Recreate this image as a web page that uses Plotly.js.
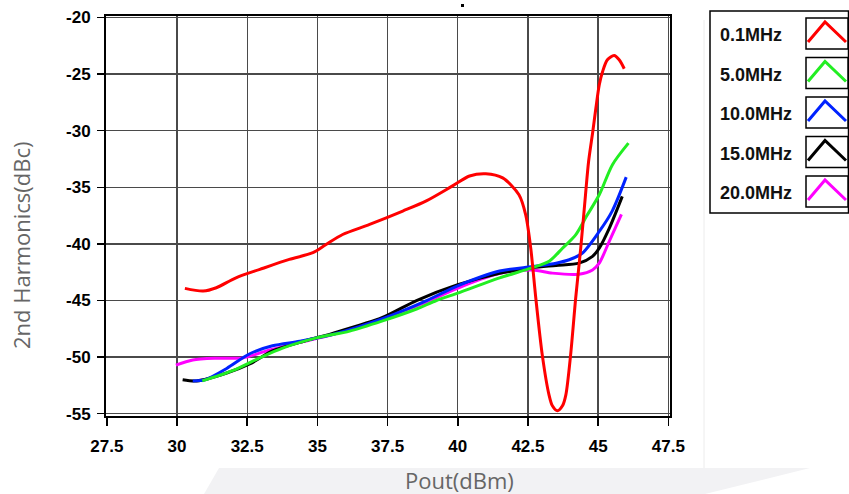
<!DOCTYPE html>
<html>
<head>
<meta charset="utf-8">
<script src="https://cdn.plot.ly/plotly-3.0.1.min.js"></script>
<style>html,body{margin:0;padding:0;background:#fff}#chart{width:849px;height:494px}</style>
</head>
<body>
<div id="chart"></div>
<script>
// ---- data ----
const seriesNames = ["0.1MHz", "5.0MHz", "10.0MHz", "15.0MHz", "20.0MHz"];
const seriesColors = ["#ff0000", "#22ee22", "#0022ff", "#000000", "#ff00ff"];

const x01 = [30.28, 30.93, 31.4, 32.1, 32.95, 34.0, 34.84, 35.31, 35.9, 36.86, 38.04, 38.88, 39.8, 40.42, 41.0, 41.6, 42.18, 42.42, 42.6, 42.78, 43.01, 43.25, 43.37, 43.55, 43.73, 43.85, 44.02, 44.2, 44.38, 44.55, 44.66, 44.81, 44.92, 45.04, 45.16, 45.33, 45.57, 45.75, 45.93];
const y01 = [-43.93, -44.16, -43.87, -42.99, -42.25, -41.37, -40.78, -40.05, -39.17, -38.28, -37.1, -36.2, -34.9, -34.0, -33.8, -34.17, -35.66, -37.43, -40.38, -44.8, -49.8, -53.33, -54.3, -54.74, -54.3, -53.33, -49.8, -44.8, -40.38, -35.66, -32.72, -30.07, -28.0, -25.95, -24.77, -23.74, -23.36, -23.74, -24.53];

const x5 = [30.9, 31.98, 32.94, 33.76, 34.97, 36.15, 37.32, 38.53, 39.24, 40.06, 41.49, 42.66, 43.27, 43.73, 44.2, 44.6, 45.04, 45.51, 46.08];
const y5 = [-52.1, -51.2, -50.07, -49.2, -48.3, -47.7, -46.8, -45.75, -45.0, -44.3, -43.0, -42.1, -41.5, -40.38, -39.2, -37.5, -35.66, -33.0, -31.1];

const x10 = [30.56, 31.0, 31.77, 32.59, 33.4, 34.37, 35.54, 37.32, 38.89, 40.0, 41.49, 42.66, 43.5, 43.97, 44.44, 45.04, 45.5, 46.0];
const y10 = [-52.1, -52.0, -51.0, -49.7, -49.0, -48.6, -48.0, -46.6, -45.0, -43.7, -42.4, -42.0, -41.7, -41.4, -40.8, -38.9, -37.1, -34.1];

const x15 = [30.2, 30.7, 31.77, 32.59, 33.4, 34.37, 35.54, 37.32, 38.53, 40.0, 41.49, 42.66, 43.5, 44.32, 44.8, 45.04, 45.4, 45.86];
const y15 = [-52.0, -52.1, -51.4, -50.6, -49.45, -48.7, -47.9, -46.5, -45.0, -43.6, -42.6, -42.1, -41.9, -41.7, -41.1, -40.37, -38.6, -35.8];

const x20 = [29.96, 30.56, 31.4, 32.34, 33.19, 34.37, 35.54, 37.32, 38.8, 40.2, 41.5, 42.66, 43.37, 44.32, 44.8, 45.04, 45.4, 45.83];
const y20 = [-50.7, -50.25, -50.1, -50.07, -49.45, -48.7, -48.0, -46.6, -45.2, -43.7, -42.6, -42.3, -42.58, -42.67, -42.3, -41.7, -39.75, -37.4];

const xTicks = [27.5, 30, 32.5, 35, 37.5, 40, 42.5, 45, 47.5];
const xTickText = ["27.5", "30", "32.5", "35", "37.5", "40", "42.5", "45", "47.5"];
const yTicks = [-55, -50, -45, -40, -35, -30, -25, -20];
const yTickText = ["-55", "-50", "-45", "-40", "-35", "-30", "-25", "-20"];
const xTitle = "Pout(dBm)";
const yTitle = "2nd Harmonics(dBc)";

// ---- layout helpers (pixel -> paper) ----
const W = 849, H = 494, L = 106, R = 179, T = 16, B = 78;
const PW = W - L - R, PH = H - T - B;
const px = v => (v - L) / PW;
const py = v => (H - B - v) / PH;

const allX = [x01, x5, x10, x15, x20];
const allY = [y01, y5, y10, y15, y20];
const drawOrder = [4, 3, 2, 1, 0];

const traces = drawOrder.map(i => ({
  x: allX[i], y: allY[i], type: 'scatter', mode: 'lines', name: seriesNames[i],
  line: {color: seriesColors[i], width: 3, shape: 'spline', smoothing: 0.8},
  showlegend: false, hoverinfo: 'skip'
}));

const shapes = [];
const annotations = [];

// watermark band
shapes.push({type: 'path', xref: 'paper', yref: 'paper', layer: 'below',
  path: `M ${px(219)} ${py(468)} L ${px(810)} ${py(468)} L ${px(705)} ${py(494)} L ${px(204)} ${py(494)} Z`,
  fillcolor: '#f2f2f4', line: {width: 0}});
// faint vertical line left of legend
shapes.push({type: 'line', xref: 'paper', yref: 'paper', x0: px(704), x1: px(704), y0: py(20), y1: py(468),
  line: {color: '#ececec', width: 1}});
// legend box
shapes.push({type: 'rect', xref: 'paper', yref: 'paper', x0: px(710), x1: px(848.5), y0: py(213), y1: py(11),
  line: {color: '#000', width: 1.5}, fillcolor: 'rgba(0,0,0,0)'});
// tiny mark at top
shapes.push({type: 'rect', xref: 'paper', yref: 'paper', x0: px(461), x1: px(464), y0: py(7), y1: py(4),
  line: {width: 0}, fillcolor: '#000'});

const boldFont = (size) => ({family: 'Liberation Sans, Arial, sans-serif', size: size, color: '#111', weight: 700});

seriesNames.forEach((n, i) => {
  const off = 39.5 * i;
  shapes.push({type: 'rect', xref: 'paper', yref: 'paper', x0: px(806), x1: px(848), y0: py(49 + off), y1: py(18 + off),
    line: {color: '#000', width: 1.5}, fillcolor: '#fff'});
  shapes.push({type: 'path', xref: 'paper', yref: 'paper',
    path: `M ${px(808)} ${py(42 + off)} L ${px(825)} ${py(22 + off)} L ${px(846)} ${py(42 + off)}`,
    line: {color: seriesColors[i], width: 3}});
  annotations.push({xref: 'paper', yref: 'paper', x: px(718), y: py(35 + off), xanchor: 'left', yanchor: 'middle',
    text: '<b>' + n + '</b>', showarrow: false, font: boldFont(18)});
});

annotations.push({xref: 'paper', yref: 'paper', x: px(459), y: py(480), xanchor: 'center', yanchor: 'middle',
  text: xTitle, showarrow: false, font: {family: 'Open Sans, sans-serif', size: 22, color: '#666'}});
annotations.push({xref: 'paper', yref: 'paper', x: px(21), y: py(245), xanchor: 'center', yanchor: 'middle', textangle: -90,
  text: yTitle, showarrow: false, font: {family: 'Open Sans, sans-serif', size: 22, color: '#666'}});

const tickFont = {family: 'Liberation Sans, Arial, sans-serif', size: 17, color: '#000', weight: 700};

const layout = {
  width: W, height: H,
  margin: {l: L, r: R, t: T, b: B, pad: 0},
  paper_bgcolor: '#fff', plot_bgcolor: 'rgba(0,0,0,0)',
  showlegend: false,
  xaxis: {range: [27.47, 47.56], tickvals: xTicks, ticktext: xTickText.map(t => '<b>' + t + '</b>'), ticks: 'outside', ticklen: 8, tickwidth: 1.5, tickcolor: '#000',
    showgrid: true, gridcolor: '#4a4a4a', gridwidth: 1.3, zeroline: false,
    showline: true, linecolor: '#000', linewidth: 2, mirror: true, tickfont: tickFont, ticklabelstandoff: 6, fixedrange: true},
  yaxis: {range: [-55.2, -19.87], tickvals: yTicks, ticktext: yTickText.map(t => '<b>' + t + '</b>'), ticks: 'outside', ticklen: 7, tickwidth: 1.5, tickcolor: '#000',
    showgrid: true, gridcolor: '#4a4a4a', gridwidth: 1.3, zeroline: false,
    showline: true, linecolor: '#000', linewidth: 2, mirror: true, tickfont: tickFont, ticklabelstandoff: 3, fixedrange: true},
  shapes: shapes,
  annotations: annotations
};

Plotly.newPlot('chart', traces, layout, {displayModeBar: false, staticPlot: true});
</script>
</body>
</html>
